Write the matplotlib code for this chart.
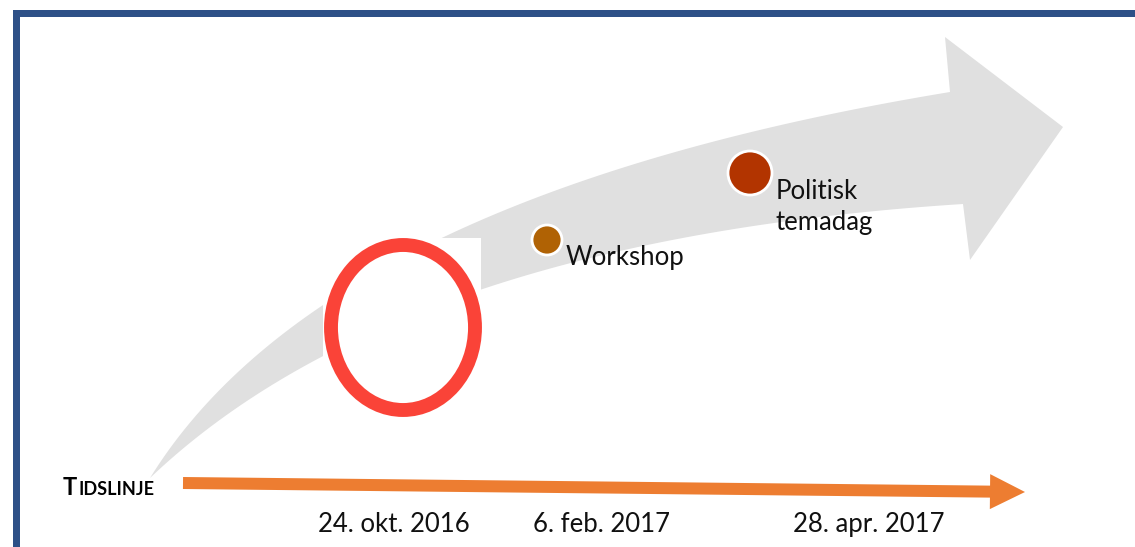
import numpy as np
import matplotlib.pyplot as plt
from matplotlib.patches import Polygon, Rectangle, Ellipse, Circle, FancyArrow

plt.rcParams['font.family'] = ['Lato', 'DejaVu Sans']

# Data
dates = ["24. okt. 2016", "6. feb. 2017", "28. apr. 2017"]
milestones = ["", "Workshop", "Politisk\ntemadag"]
dot_colors = ["#FA4338", "#B06204", "#B23400"]
timeline_label = "TIDSLINJE"

W, H = 1135, 547
fig = plt.figure(figsize=(W / 100, H / 100), dpi=100)
ax = fig.add_axes([0, 0, 1, 1])
ax.set_xlim(0, W)
ax.set_ylim(H, 0)
ax.axis('off')

# frame (top + left only)
frame = "#2D5087"
ax.add_patch(Rectangle((13, 10), W - 13, 6.5, color=frame, lw=0, zorder=5))
ax.add_patch(Rectangle((13, 10), 6.5, H - 10, color=frame, lw=0, zorder=5))


def bez(p0, p1, p2, n=80):
    t = np.linspace(0, 1, n)[:, None]
    return (1 - t) ** 2 * np.array(p0) + 2 * t * (1 - t) * np.array(p1) + t ** 2 * np.array(p2)


# big curved grey arrow
tail = (150, 478)
upper = bez(tail, (325, 195), (950, 92))
lower = bez(tail, (400, 240), (963, 204))
head = np.array([(945, 37), (1063, 127), (970, 260)])
pts = np.vstack([upper, head, lower[::-1]])
ax.add_patch(Polygon(pts, closed=True, color="#E0E0E0", lw=0, zorder=1))

# white box behind the ring (pasted picture)
ax.add_patch(Rectangle((323, 238), 158, 185, color="white", lw=0, zorder=2))

# red ring
ax.add_patch(Ellipse((403, 327.5), 144, 165, fill=False, edgecolor=dot_colors[0],
                     lw=10, zorder=3))

# milestone dots
dot_pos = [None, (547, 240), (750, 173)]
dot_r = [None, 15, 22]
for i in (1, 2):
    ax.add_patch(Circle(dot_pos[i], dot_r[i], facecolor=dot_colors[i],
                        edgecolor="white", lw=2, zorder=4))

ax.text(566, 265, milestones[1], fontsize=18.5, color="#111111", va='baseline', zorder=6)
ax.text(776, 230, milestones[2], fontsize=18.5, color="#111111", va='baseline',
        linespacing=1.3, zorder=6)

# orange timeline arrow
ax.add_patch(FancyArrow(183, 483, 842, 9, width=12, head_width=35, head_length=35,
                        length_includes_head=True, color="#ED7D31", lw=0, zorder=3))

# small caps label
ax.text(63, 495, timeline_label[0], fontsize=17, fontweight='bold', color="black", va='baseline')
ax.text(78, 495, timeline_label[1:], fontsize=13, fontweight='bold', color="black", va='baseline')

date_x = [318, 533, 793]
for x, d in zip(date_x, dates):
    ax.text(x, 532, d, fontsize=18.5, color="#111111", va='baseline')

fig.savefig("out.png", dpi=100, facecolor="white")
